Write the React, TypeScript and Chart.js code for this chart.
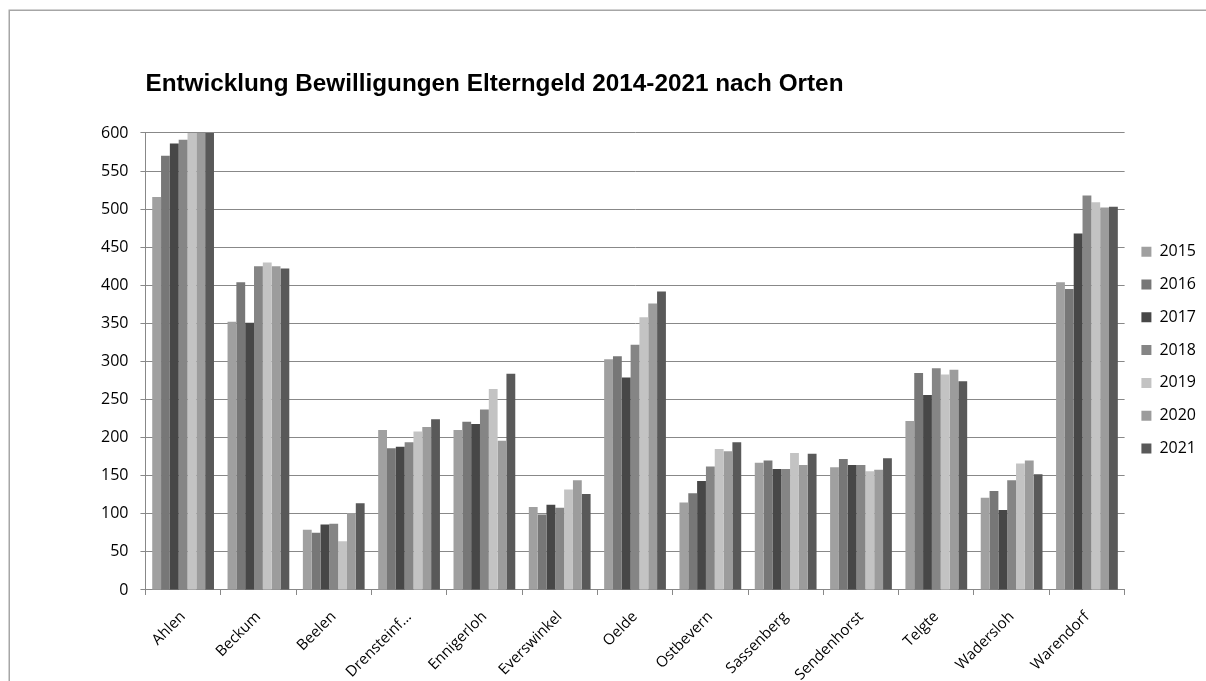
import React, { useEffect, useRef } from "react";
import { Chart, registerables } from "chart.js";

Chart.register(...registerables);

const titleText = "Entwicklung Bewilligungen Elterngeld 2014-2021 nach Orten";

const categories = [
  "Ahlen",
  "Beckum",
  "Beelen",
  "Drensteinf...",
  "Ennigerloh",
  "Everswinkel",
  "Oelde",
  "Ostbevern",
  "Sassenberg",
  "Sendenhorst",
  "Telgte",
  "Wadersloh",
  "Warendorf",
];

const years = ["2015", "2016", "2017", "2018", "2019", "2020", "2021"];

const v2015 = [516, 352, 79, 210, 210, 109, 303, 115, 167, 161, 222, 121, 404];
const v2016 = [570, 404, 75, 186, 221, 99, 307, 127, 170, 172, 285, 130, 395];
const v2017 = [586, 351, 86, 188, 218, 112, 279, 143, 159, 164, 256, 105, 468];
const v2018 = [591, 425, 87, 194, 237, 108, 322, 162, 159, 164, 291, 144, 518];
const v2019 = [612, 430, 64, 208, 264, 132, 358, 185, 180, 156, 283, 166, 509];
const v2020 = [618, 425, 101, 214, 196, 144, 376, 182, 164, 158, 289, 170, 502];
const v2021 = [625, 422, 114, 224, 284, 126, 392, 194, 179, 173, 274, 152, 503];

const seriesValues = [v2015, v2016, v2017, v2018, v2019, v2020, v2021];
const seriesColors = ["#a0a0a0", "#777777", "#474747", "#858585", "#c3c3c3", "#9c9c9c", "#595959"];

const yTicks = [0, 50, 100, 150, 200, 250, 300, 350, 400, 450, 500, 550, 600];

const framePlugin = {
  id: "frame",
  beforeDraw(chart: any) {
    const ctx = chart.ctx;
    ctx.save();
    ctx.fillStyle = "#ffffff";
    ctx.fillRect(0, 0, chart.width, chart.height);
    ctx.strokeStyle = "#a6a6a6";
    ctx.lineWidth = 1.5;
    ctx.strokeRect(9.25, 10.25, chart.width + 40, chart.height + 40);
    ctx.restore();
  },
};

export default function App() {
  const ref = useRef<HTMLCanvasElement | null>(null);

  useEffect(() => {
    if (!ref.current) return;
    const chart = new Chart(ref.current, {
      type: "bar",
      data: {
        labels: categories,
        datasets: years.map((y, i) => ({
          label: y,
          data: seriesValues[i],
          backgroundColor: seriesColors[i],
          borderWidth: 0,
          categoryPercentage: 0.82,
          barPercentage: 1.0,
        })),
      },
      options: {
        animation: false,
        responsive: false,
        devicePixelRatio: 1,
        layout: { padding: { top: 3.2, left: 89, right: 0, bottom: 0 } },
        font: { family: "'Open Sans', sans-serif" },
        plugins: {
          title: {
            display: true,
            text: titleText,
            align: "start",
            fullSize: false,
            color: "#000",
            font: { family: "'Liberation Sans', Arial, sans-serif", size: 24.3, weight: "bold" },
            padding: { top: 66.2, bottom: 34.4 },
          },
          legend: {
            position: "right",
            align: "center",
            labels: {
              boxWidth: 10,
              boxHeight: 10,
              padding: 16.8,
              color: "#000",
              font: { family: "'Open Sans', sans-serif", size: 16 },
            },
          },
          tooltip: { enabled: false },
        },
        scales: {
          x: {
            grid: {
              display: true,
              drawOnChartArea: false,
              drawTicks: true,
              tickLength: 5,
              color: "#888888",
              offset: true,
            },
            border: { display: true, color: "#888888", width: 1 },
            ticks: {
              autoSkip: false,
              maxRotation: 45,
              minRotation: 45,
              padding: 13,
              color: "#000",
              font: { family: "'Open Sans', sans-serif", size: 15 },
            },
          },
          y: {
            min: 0,
            max: 600,
            afterBuildTicks(axis: any) {
              axis.ticks = yTicks.map((v) => ({ value: v }));
            },
            grid: { color: "#888888", tickLength: 5, drawTicks: true },
            border: { display: true, color: "#888888", width: 1 },
            ticks: {
              padding: 12,
              color: "#000",
              font: { family: "'Open Sans', sans-serif", size: 16 },
            },
          },
        },
      },
      plugins: [framePlugin],
    });
    return () => chart.destroy();
  }, []);

  return (
    <div style={{ position: "fixed", left: 0, top: 0, width: 1206, height: 681, overflow: "hidden", background: "#fff" }}>
      <canvas ref={ref} width={1206} height={697} style={{ display: "block", width: 1206, height: 697 }} />
    </div>
  );
}
